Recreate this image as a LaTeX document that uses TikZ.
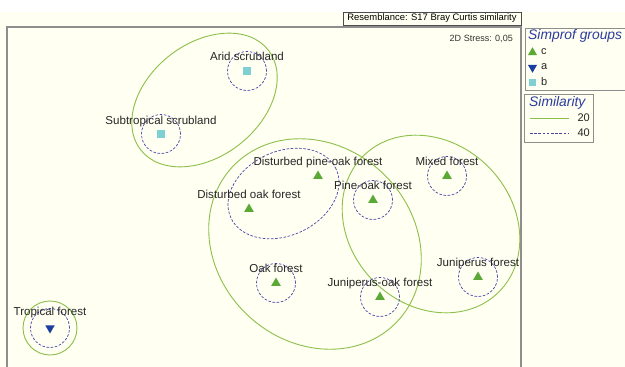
\documentclass[tikz,border=0pt]{standalone}
\usepackage{fontspec}
\setmainfont{Liberation Sans}
\usetikzlibrary{positioning,shapes.geometric}
\definecolor{bgCream}{HTML}{FFFFF2}
\definecolor{frameGrey}{HTML}{8E8E8E}
\definecolor{simGreen}{HTML}{8CC04A}
\definecolor{simBlue}{HTML}{4646A8}
\definecolor{grpC}{HTML}{5AA935}
\definecolor{grpA}{HTML}{1A3F9E}
\definecolor{grpB}{HTML}{7FD0D3}
\definecolor{legBlue}{HTML}{2C3C9E}

\begin{document}
\begin{tikzpicture}[
  x=1pt, y=-1pt,
  font=\fontsize{11.5bp}{13bp}\selectfont,
  triC/.style  ={regular polygon, regular polygon sides=3, minimum size=11pt,
                 inner sep=0pt, fill=grpC, draw=none},
  triA/.style  ={regular polygon, regular polygon sides=3, minimum size=11pt,
                 shape border rotate=180, inner sep=0pt, fill=grpA, draw=none},
  sqB/.style   ={rectangle, minimum size=8.5pt, inner sep=0pt, fill=grpB, draw=none},
  site/.style  ={inner sep=1.8pt, text height=8pt, text depth=2.5pt, text=black!85},
  sim20/.style ={draw=simGreen, line width=0.9pt},
  sim40/.style ={draw=simBlue, line width=0.7pt, dash pattern=on 2.6pt off 1.6pt},
  legbox/.style={draw=frameGrey, line width=0.9pt},
  legtitle/.style={inner sep=0pt, text=legBlue, anchor=west,
                 font=\fontsize{13.8bp}{16bp}\selectfont\itshape},
  legtxt/.style={inner sep=0pt, text=black!85, font=\fontsize{11bp}{13bp}\selectfont},
  small/.style ={inner sep=0pt, text=black!80, font=\fontsize{9bp}{11bp}\selectfont},
]
\useasboundingbox (0,0) rectangle (625,367);
\clip (0,0) rectangle (625,367);

% ---- paper and frame ---------------------------------------------------------------
\fill[white] (0,0) rectangle (625,12);
\fill[bgCream] (0,12) rectangle (625,367);
\draw[frameGrey, line width=1.5pt] (7,370) -- (7,27) -- (521,27) -- (521,370);

\node[draw=black!70, line width=0.6pt, minimum width=178pt, minimum height=13pt,
      inner sep=0pt, font=\fontsize{9.4bp}{11bp}\selectfont] (res) at (432,18.5)
  {Resemblance: S17 Bray Curtis similarity};
\node[small, anchor=east] (stress) at (513,39) {2D Stress: 0,05};

% ---- the 20 % clusters (green) and the 40 % clusters (dashed) ----------------------
\coordinate (scrubC) at (204.5,100);
\coordinate (oakC)   at (315,244);
\coordinate (junC)   at (431,224);
\coordinate (distC)  at (283.5,193.5);

\draw[sim20, rotate around={38:(scrubC)}] (scrubC) ellipse [x radius=81pt, y radius=56.5pt];
\draw[sim20, rotate around={-43:(oakC)}]  (oakC)   ellipse [x radius=113pt, y radius=98pt];
\draw[sim20, rotate around={-45:(junC)}]  (junC)   ellipse [x radius=96pt, y radius=81pt];
\draw[sim40, rotate around={25:(distC)}]  (distC)  ellipse [x radius=58pt, y radius=42pt];

% ---- the sites ---------------------------------------------------------------------
\node[sqB]  (arid) at (247,71)  {};
\node[sqB]  (subt) at (161,134) {};
\node[triA] (trop) at (50,328)  {};
\node[triC] (dpo)  at (318,176) {};
\node[triC] (dok)  at (249,209) {};
\node[triC] (po)   at (373,200) {};
\node[triC] (mix)  at (447,176) {};
\node[triC] (oak)  at (276,283) {};
\node[triC] (jo)   at (380,297) {};
\node[triC] (jun)  at (478,277) {};

\foreach \s in {arid,subt,trop,po,mix,oak,jo,jun}
  \draw[sim40] (\s) circle [radius=19.5pt];
\draw[sim20] (trop) circle [radius=27pt];

\node[site, above=1.5pt of arid] (aridL) {Arid scrubland};
\node[site, above=1pt of subt]   (subtL) {Subtropical scrubland};
\node[site, above=5pt of trop]   (tropL) {Tropical forest};
\node[site, above=0pt of dpo]    (dpoL)  {Disturbed pine-oak forest};
\node[site, above=0pt of dok]    (dokL)  {Disturbed oak forest};
\node[site, above=0pt of po]     (poL)   {Pine-oak forest};
\node[site, above=0pt of mix]    (mixL)  {Mixed forest};
\node[site, above=0pt of oak]    (oakL)  {Oak forest};
\node[site, above=0pt of jo]     (joL)   {Juniperus-oak forest};
\node[site, above=0pt of jun]    (junL)  {Juniperus forest};

% ---- legends -----------------------------------------------------------------------
\draw[legbox] (525,28) rectangle (630,90);
\node[legtitle] (grpT) at (528,36) {Simprof groups};
\node[triC, minimum size=10.5pt] (legC) at (532.5,52.5) {};
\node[triA, minimum size=10.5pt] (legA) at (532.5,67.5) {};
\node[sqB, minimum size=7.5pt]   (legB) at (532.5,82.5) {};
\node[legtxt, anchor=west] (legCt) at (541,52) {c};
\node[legtxt, anchor=west] (legAt) at (541,67) {a};
\node[legtxt, anchor=west] (legBt) at (541,82) {b};

\draw[legbox] (524,94) rectangle (593,142);
\node[legtitle] (simT) at (529,102.5) {Similarity};
\draw[sim20] (530,118.3) -- (569,118.3);
\draw[sim40] (530,133.3) -- (569,133.3);
\node[legtxt, anchor=east] (sim20t) at (590,118) {20};
\node[legtxt, anchor=east] (sim40t) at (590,133) {40};

\end{tikzpicture}
\end{document}
